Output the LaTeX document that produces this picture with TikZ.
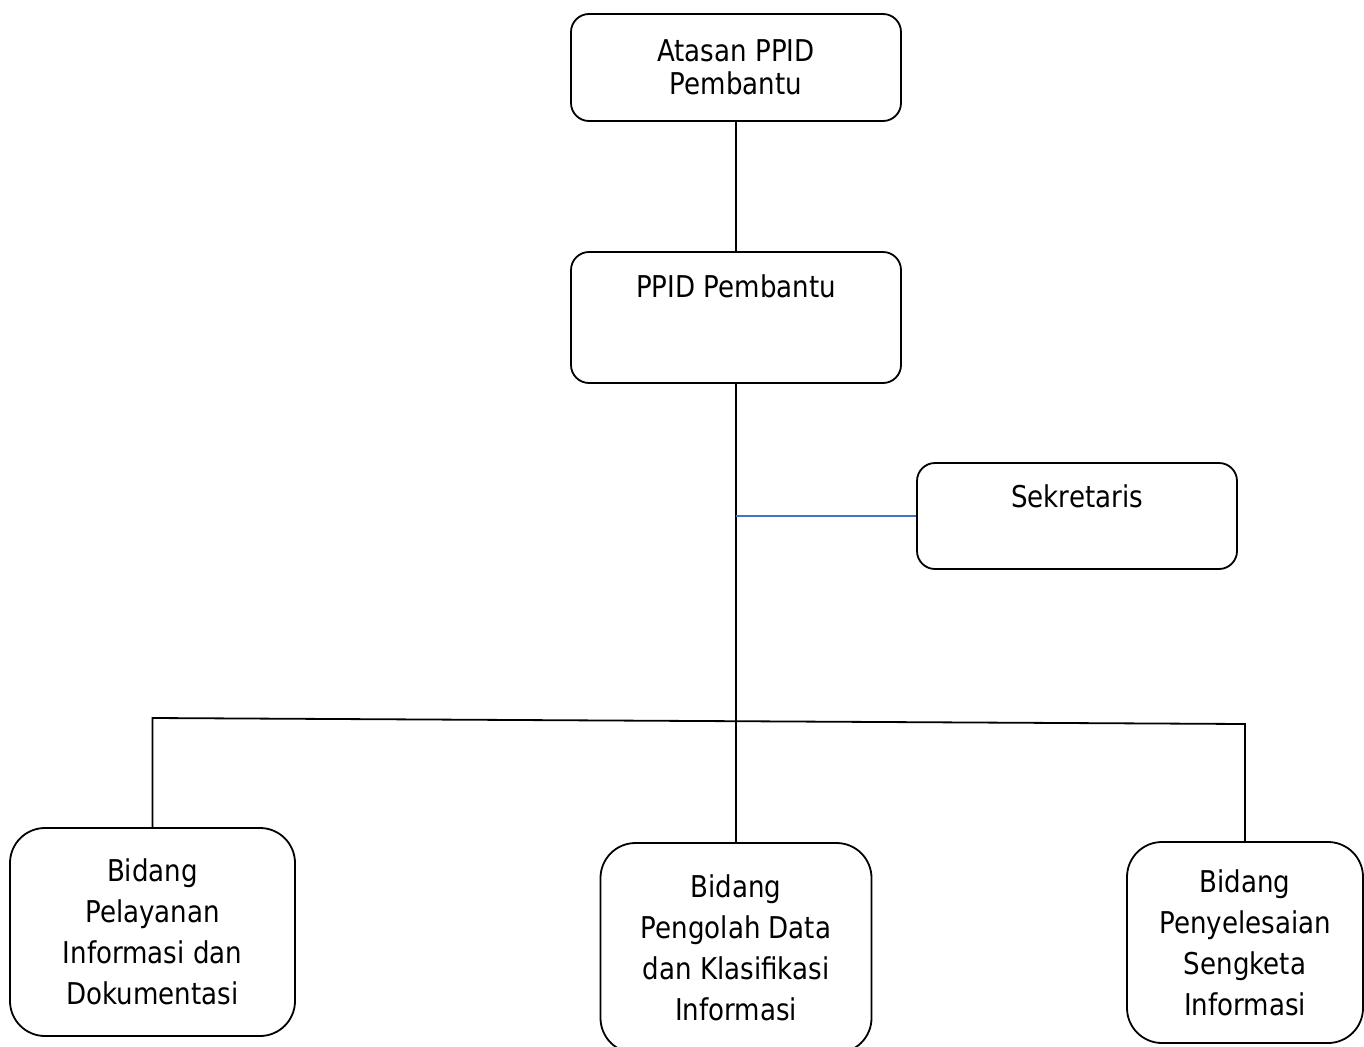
\documentclass[tikz,border=0pt]{standalone}
\usepackage{fontspec}
\setmainfont{DejaVu Sans}[FakeStretch=0.87]
\definecolor{biru}{RGB}{68,114,196}
\begin{document}
\begin{tikzpicture}[x=1pt,y=-1pt]
	\tikzset{
		kotak/.style={draw, line width=1.8pt, rounded corners=18pt, align=center, inner sep=0pt,
			font=\fontsize{30}{33.5}\selectfont},
		bidang/.style={kotak, rounded corners=35pt, font=\fontsize{30}{41}\selectfont},
		judul/.style={anchor=north, inner sep=0pt, font=\fontsize{30}{33.5}\selectfont},
		garis/.style={line width=1.8pt},
	}
	\useasboundingbox[fill=white] (0,0) rectangle (1364,1046);

	\node[kotak, minimum width=330pt, minimum height=107pt] (atasan) at (736,67.5) {Atasan PPID\\Pembantu};
	\node[kotak, minimum width=330pt, minimum height=131pt,
		label={[judul, yshift=-23pt]north:PPID Pembantu}] (ppid) at (736,317.5) {};
	\node[kotak, minimum width=320pt, minimum height=106pt,
		label={[judul, yshift=-22pt]north:Sekretaris}] (sekre) at (1077,516) {};

	\node[bidang, minimum width=285pt, minimum height=208pt] (pelayanan) at (152.5,932)
		{Bidang\\Pelayanan\\Informasi dan\\Dokumentasi};
	\node[bidang, minimum width=271pt, minimum height=210pt] (pengolah) at (736,948)
		{Bidang\\Pengolah Data\\dan Klasifikasi\\Informasi};
	\node[bidang, minimum width=236pt, minimum height=201pt] (penyelesaian) at (1245,942.5)
		{Bidang\\Penyelesaian\\Sengketa\\Informasi};

	\draw[garis] (atasan) -- (ppid);
	\draw[garis] (ppid) -- (pengolah);
	\draw[garis, biru] (ppid.south |- sekre.west) -- (sekre.west);

	\coordinate (kiri) at (152.5,718);
	\coordinate (kanan) at (1245,724);
	\draw[garis] (pelayanan) -- (kiri) -- (kanan) -- (penyelesaian);
\end{tikzpicture}
\end{document}
